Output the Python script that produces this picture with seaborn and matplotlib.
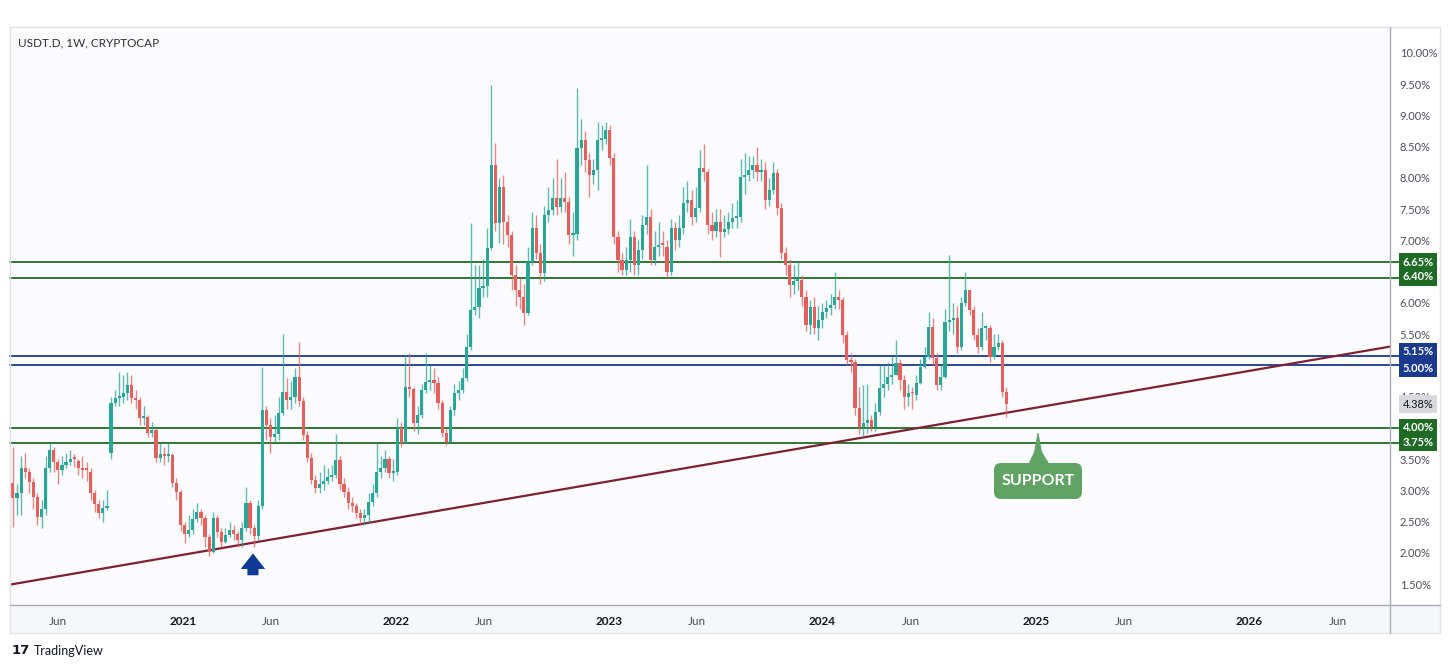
import numpy as np
import pandas as pd
import matplotlib
matplotlib.use("Agg")
import matplotlib.pyplot as plt
import matplotlib.dates as mdates
from matplotlib.patches import FancyBboxPatch, Polygon, Rectangle
from matplotlib.lines import Line2D
from matplotlib.transforms import IdentityTransform
import seaborn as sns

# ---------------- data ----------------
title = "USDT.D, 1W, CRYPTOCAP"
start_week = "2020-03-16"
first_open = 3.12
gap_open_index = 24
gap_open = 3.60

closes = [
    2.88, 2.95, 3.35, 3.30, 3.14, 2.90, 2.58, 2.70, 3.36, 3.65,
    3.45, 3.32, 3.40, 3.45, 3.50, 3.47, 3.35, 3.32, 3.30, 2.96,
    2.78, 2.63, 2.72, 2.74, 4.40, 4.48, 4.50, 4.56, 4.69, 4.48,
    4.45, 4.16, 4.18, 3.92, 3.97, 3.52, 3.58, 3.55, 3.57, 3.12,
    2.98, 2.45, 2.30, 2.36, 2.54, 2.65, 2.55, 2.26, 2.02, 2.56,
    2.34, 2.18, 2.28, 2.36, 2.30, 2.20, 2.40, 2.80, 2.40, 2.27,
    2.75, 4.29, 4.05, 3.86, 3.90, 4.24, 4.58, 4.45, 4.50, 4.82,
    4.43, 3.89, 3.52, 3.17, 3.04, 3.10, 3.15, 3.22, 3.25, 3.49,
    3.10, 2.98, 2.80, 2.75, 2.64, 2.55, 2.60, 2.82, 2.96, 3.30,
    3.35, 3.50, 3.28, 3.30, 4.00, 3.76, 4.66, 4.62, 4.08, 4.20,
    4.60, 4.74, 4.76, 4.72, 4.40, 3.92, 3.78, 4.29, 4.56, 4.60,
    4.80, 5.30, 5.89, 5.93, 6.24, 6.27, 6.88, 8.20, 7.28, 7.86,
    7.30, 7.09, 6.45, 6.20, 6.10, 5.84, 6.66, 7.20, 6.80, 6.48,
    7.40, 7.49, 7.68, 7.54, 7.68, 7.62, 7.09, 7.10, 8.48, 8.60,
    8.29, 8.05, 8.12, 8.61, 8.63, 8.77, 8.32, 7.06, 6.69, 6.53,
    6.69, 7.06, 6.60, 6.85, 7.25, 7.38, 6.69, 6.90, 6.93, 6.90,
    6.50, 7.20, 7.00, 7.20, 7.60, 7.65, 7.38, 7.52, 8.16, 8.10,
    7.25, 7.15, 7.30, 7.14, 7.18, 7.30, 7.36, 7.38, 8.02, 8.05,
    8.13, 8.21, 8.10, 8.13, 7.65, 7.81, 8.08, 7.52, 6.80, 6.61,
    6.29, 6.35, 6.37, 6.10, 5.65, 5.94, 5.60, 5.72, 5.86, 5.92,
    5.97, 6.10, 6.05, 5.49, 5.09, 5.05, 4.32, 4.02, 4.07, 4.12,
    4.02, 4.26, 4.64, 4.70, 4.82, 4.85, 5.04, 4.77, 4.50, 4.55,
    4.53, 4.72, 4.98, 5.14, 5.62, 5.11, 4.69, 4.82, 5.70, 5.72,
    5.75, 5.30, 6.00, 6.20, 5.89, 5.49, 5.30, 5.60, 5.60, 5.14,
    5.30, 5.36, 4.58, 4.38,
]
highs = [
    3.70, 3.10, 3.55, 3.60, 3.35, 3.20, 2.95, 2.85, 3.55, 3.75,
    3.70, 3.50, 3.55, 3.60, 3.65, 3.58, 3.50, 3.55, 3.45, 3.35,
    3.00, 2.85, 2.85, 3.00, 4.50, 4.60, 4.90, 4.85, 4.90, 4.85,
    4.60, 4.50, 4.35, 4.20, 4.10, 4.00, 3.75, 3.70, 3.75, 3.60,
    3.20, 3.00, 2.50, 2.60, 2.70, 2.80, 2.70, 2.60, 2.30, 2.65,
    2.60, 2.40, 2.40, 2.50, 2.45, 2.35, 2.50, 3.05, 2.85, 2.45,
    2.85, 4.98, 4.35, 4.15, 4.20, 4.50, 5.50, 4.80, 4.75, 4.95,
    5.38, 4.50, 3.95, 3.60, 3.25, 3.30, 3.40, 3.35, 3.40, 3.90,
    3.55, 3.20, 3.05, 2.90, 2.80, 2.70, 2.70, 2.95, 3.10, 3.75,
    3.55, 3.65, 3.55, 3.50, 4.15, 4.10, 5.17, 5.20, 4.65, 4.35,
    4.70, 5.20, 5.00, 4.95, 4.82, 4.45, 4.00, 4.35, 4.70, 4.75,
    4.95, 5.50, 7.28, 6.60, 6.60, 6.70, 7.20, 9.49, 8.56, 8.00,
    8.05, 7.40, 7.15, 6.60, 6.40, 6.30, 6.90, 7.45, 7.40, 6.95,
    7.55, 7.85, 8.00, 8.30, 8.00, 8.10, 7.70, 7.45, 9.44, 8.95,
    8.75, 8.40, 8.30, 8.90, 8.85, 8.90, 8.85, 8.40, 7.15, 6.80,
    6.90, 7.35, 7.15, 7.00, 7.40, 8.20, 7.50, 7.15, 7.30, 7.15,
    7.00, 7.35, 7.30, 7.40, 7.85, 7.95, 7.80, 7.85, 8.45, 8.55,
    8.15, 7.45, 7.50, 7.50, 7.40, 7.45, 7.60, 7.65, 8.30, 8.40,
    8.35, 8.35, 8.50, 8.30, 8.25, 8.00, 8.25, 8.15, 7.60, 6.90,
    6.70, 6.60, 6.65, 6.45, 6.20, 6.05, 6.10, 5.95, 6.00, 6.05,
    6.15, 6.50, 6.20, 6.10, 5.55, 5.20, 5.10, 4.65, 4.69, 4.70,
    4.20, 4.40, 5.00, 5.00, 5.05, 5.15, 5.41, 5.10, 4.85, 4.70,
    4.65, 4.85, 5.10, 5.30, 5.85, 5.75, 5.20, 5.00, 5.90, 6.77,
    6.00, 5.95, 6.10, 6.50, 6.20, 5.95, 5.60, 5.85, 5.65, 5.65,
    5.50, 5.50, 5.40, 4.65,
]
lows = [
    2.42, 2.60, 2.60, 3.20, 2.95, 2.70, 2.45, 2.40, 2.60, 3.30,
    3.30, 3.10, 3.25, 3.35, 3.40, 3.38, 3.25, 3.20, 3.15, 2.85,
    2.65, 2.55, 2.50, 2.68, 3.50, 4.35, 4.35, 4.40, 4.45, 4.40,
    4.30, 4.05, 4.05, 3.85, 3.85, 3.45, 3.45, 3.40, 3.45, 3.05,
    2.85, 2.35, 2.15, 2.25, 2.30, 2.50, 2.45, 2.10, 1.95, 2.00,
    2.25, 2.10, 2.15, 2.25, 2.20, 2.10, 2.10, 2.35, 2.30, 2.10,
    2.20, 2.70, 3.80, 3.60, 3.75, 3.80, 4.20, 4.30, 4.30, 4.40,
    4.35, 3.80, 3.45, 3.10, 2.95, 2.95, 3.00, 3.10, 3.15, 3.20,
    3.00, 2.90, 2.70, 2.65, 2.55, 2.45, 2.45, 2.50, 2.75, 2.90,
    3.20, 3.30, 3.20, 3.15, 3.25, 3.70, 3.75, 4.50, 3.95, 3.90,
    4.15, 4.55, 4.60, 4.55, 4.30, 3.85, 3.72, 3.75, 4.20, 4.45,
    4.55, 4.75, 5.25, 5.80, 5.75, 6.10, 6.10, 6.85, 7.15, 6.96,
    6.95, 6.90, 6.20, 5.95, 5.90, 5.65, 5.80, 6.60, 6.70, 6.30,
    6.35, 7.30, 7.40, 7.40, 7.45, 7.45, 6.95, 6.75, 7.00, 8.20,
    8.10, 7.70, 7.90, 7.80, 8.45, 8.55, 8.20, 6.95, 6.50, 6.45,
    6.45, 6.50, 6.45, 6.45, 6.70, 7.10, 6.60, 6.60, 6.75, 6.75,
    6.40, 6.45, 6.85, 6.90, 7.10, 7.45, 7.25, 7.30, 7.45, 7.95,
    7.10, 7.00, 7.05, 6.74, 7.05, 7.10, 7.20, 7.20, 7.30, 7.75,
    7.95, 8.00, 7.95, 7.95, 7.50, 7.55, 7.75, 7.40, 6.70, 6.45,
    6.10, 6.15, 6.20, 5.95, 5.55, 5.50, 5.50, 5.40, 5.60, 5.75,
    5.80, 5.90, 5.90, 5.35, 5.00, 4.90, 4.20, 3.90, 3.85, 3.92,
    3.95, 3.95, 4.20, 4.50, 4.60, 4.70, 4.85, 4.60, 4.30, 4.35,
    4.30, 4.45, 4.70, 4.95, 5.10, 5.00, 4.60, 4.60, 4.80, 5.55,
    5.50, 5.20, 5.25, 5.95, 5.80, 5.40, 5.20, 5.25, 5.40, 5.05,
    5.10, 5.25, 4.50, 4.18,
]

levels = [6.65, 6.40, 5.15, 5.00, 4.00, 3.75]
level_kinds = ["green", "green", "blue", "blue", "green", "green"]
last_price = 4.38

trend_dates = ["2020-03-11", "2026-08-30"]
trend_values = [1.49, 5.30]

arrow_date = "2021-05-01"
arrow_span = [1.64, 1.99]

callout_text = "SUPPORT"

y_ticks = [1.5, 2.0, 2.5, 3.0, 3.5, 4.0, 4.5, 5.0, 5.5, 6.0, 6.5, 7.0,
           7.5, 8.0, 8.5, 9.0, 9.5, 10.0]
y_ticks_hidden_by_boxes = [4.0, 5.0, 6.5]
x_tick_dates = ["2020-06-01", "2021-01-01", "2021-06-01", "2022-01-01",
                "2022-06-01", "2023-01-01", "2023-06-01", "2024-01-01",
                "2024-06-01", "2025-01-01", "2025-06-01", "2026-01-01",
                "2026-06-01"]
x_tick_labels = ["Jun", "2021", "Jun", "2022", "Jun", "2023", "Jun",
                 "2024", "Jun", "2025", "Jun", "2026", "Jun"]
x_limits = ["2020-03-11", "2026-08-30"]
y_limits = [1.164, 10.4]

# ---------------- style ----------------
sns.set_theme(style="white")
plt.rcParams["font.family"] = ["Lato", "DejaVu Sans"]

UP = "#2aa596"
DOWN = "#e5605c"
GREEN_LVL = "#1f6a25"
BLUE_LVL = "#1b3a8e"
TREND = "#7b2130"

W, H = 1452, 669
fig = plt.figure(figsize=(W / 100, H / 100), dpi=100, facecolor="white")

def fx(px):
    return px / W

def fy(py):
    return 1 - py / H

AX_W = 1380
ax = fig.add_axes([fx(10), fy(605), fx(1390) - fx(10), fy(28) - fy(605)])
ax.set_facecolor("#fbfbfd")
for s in ax.spines.values():
    s.set_visible(False)

# time strip and frame decorations (figure pixels)
fig.add_artist(Rectangle((10, H - 633), 1430, 28, transform=IdentityTransform(),
                         fc="#f6f7f9", ec="none", zorder=0))
fig.add_artist(Rectangle((10, H - 633), 1430, 606, transform=IdentityTransform(),
                         fc="none", ec="#e1e3e8", lw=1, zorder=5))
fig.add_artist(Line2D([10, 1440], [H - 605, H - 605], transform=IdentityTransform(),
                      color="#a9adb5", lw=1, zorder=5))
fig.add_artist(Line2D([1390, 1390], [H - 27, H - 633], transform=IdentityTransform(),
                      color="#a9adb5", lw=1, zorder=5))

# ---------------- candles ----------------
dates = pd.date_range(start_week, periods=len(closes), freq="W-MON")
opens = [first_open] + closes[:-1]
opens[gap_open_index] = gap_open
df = pd.DataFrame({"date": dates, "open": opens, "high": highs,
                   "low": lows, "close": closes})
df["x"] = mdates.date2num(df["date"])
df["up"] = df["close"] >= df["open"]
df["color"] = np.where(df["up"], UP, DOWN)
body = df["close"] - df["open"]
body = np.where(np.abs(body) < 0.03, 0.03, body)

ax.vlines(df["x"], df["low"], df["high"], colors=df["color"], lw=1.0,
          alpha=0.75, zorder=3)
ax.bar(df["x"], body, bottom=df["open"], width=5.4, color=df["color"],
       edgecolor="none", zorder=4)

# ---------------- levels ----------------
ytrans = ax.get_yaxis_transform()
BOX_X = 1.0 + 9 / AX_W
for lv, kind in zip(levels, level_kinds):
    c = GREEN_LVL if kind == "green" else BLUE_LVL
    ax.plot([0, BOX_X], [lv, lv], transform=ytrans, color=c, lw=1.3,
            zorder=2, clip_on=False)

# trendline via seaborn
trend_df = pd.DataFrame({"x": mdates.date2num(pd.to_datetime(trend_dates)),
                         "y": trend_values})
sns.lineplot(data=trend_df, x="x", y="y", ax=ax, color=TREND, lw=1.6, zorder=2)

# arrow
ad = mdates.date2num(pd.Timestamp(arrow_date))
ax.annotate("", xy=(ad, arrow_span[1]), xytext=(ad, arrow_span[0]),
            arrowprops=dict(arrowstyle="simple,head_length=0.7,head_width=1.1,tail_width=0.5",
                            fc="#0e3a96", ec="none", mutation_scale=16,
                            shrinkA=0, shrinkB=0), zorder=6)

# ---------------- axes ----------------
ax.set_xlim(mdates.date2num(pd.to_datetime(x_limits)))
ax.set_ylim(y_limits)
ax.set_xlabel("")
ax.set_ylabel("")
ax.yaxis.tick_right()
ax.set_yticks(y_ticks)
ax.set_yticklabels(["" if v in y_ticks_hidden_by_boxes else f"{v:.2f}%"
                    for v in y_ticks])
ax.tick_params(axis="y", length=0, pad=7, labelsize=8, labelcolor="#4a4d57")
ax.set_xticks(mdates.date2num(pd.to_datetime(x_tick_dates)))
ax.set_xticklabels(x_tick_labels)
ax.tick_params(axis="x", length=0, pad=8, labelsize=8.5, labelcolor="#4a4d57")
for lab in ax.get_xticklabels():
    if lab.get_text() != "Jun":
        lab.set_fontweight("bold")
        lab.set_color("#131722")
ax.grid(False)

# price-scale boxes (labels nudged apart like the price scale does)
label_nudge_px = [0, 1, 4, -3, 0, 1]
for lv, kind, dy in zip(levels, level_kinds, label_nudge_px):
    ax.annotate(f"{lv:.2f}%", xy=(BOX_X, lv), xycoords=ytrans,
                xytext=(2.5, dy * 0.72), textcoords="offset points",
                ha="left", va="center", fontsize=8, fontweight="bold", color="white",
                bbox=dict(boxstyle="square,pad=0.3",
                          fc=GREEN_LVL if kind == "green" else BLUE_LVL, ec="none"),
                annotation_clip=False, zorder=10)
ax.annotate(f"{last_price:.2f}%", xy=(BOX_X, last_price), xycoords=ytrans,
            xytext=(2.5, 0), textcoords="offset points",
            ha="left", va="center", fontsize=8, color="#131722",
            bbox=dict(boxstyle="square,pad=0.3", fc="#d8d9dd", ec="none"),
            annotation_clip=False, zorder=10)

# ---------------- support callout ----------------
CALL = "#61a265"
fig.add_artist(FancyBboxPatch((994, H - 499), 88, 36, transform=IdentityTransform(),
                              boxstyle="round,pad=0,rounding_size=7",
                              fc=CALL, ec="none", zorder=8))
fig.add_artist(Polygon([(1028, H - 465), (1034, H - 452), (1037.5, H - 433),
                        (1038.5, H - 433), (1042, H - 452), (1050, H - 465)],
                       closed=True, transform=IdentityTransform(),
                       fc=CALL, ec="none", zorder=8))
fig.text(fx(1038), fy(481), callout_text, ha="center", va="center",
         fontsize=11.5, fontweight="bold", color="white", zorder=9)

# ---------------- texts ----------------
fig.text(fx(18), fy(43), title, ha="left", va="center", fontsize=8.5,
         color="#2a2e39")
fig.text(fx(12), fy(651), "17", ha="left", va="center", fontsize=9.5,
         fontweight="heavy", color="#131722", family=["DejaVu Sans"])
fig.text(fx(34), fy(651), "TradingView", ha="left", va="center", fontsize=9,
         color="#131722")

fig.savefig("out.png", dpi=100, facecolor="white")
